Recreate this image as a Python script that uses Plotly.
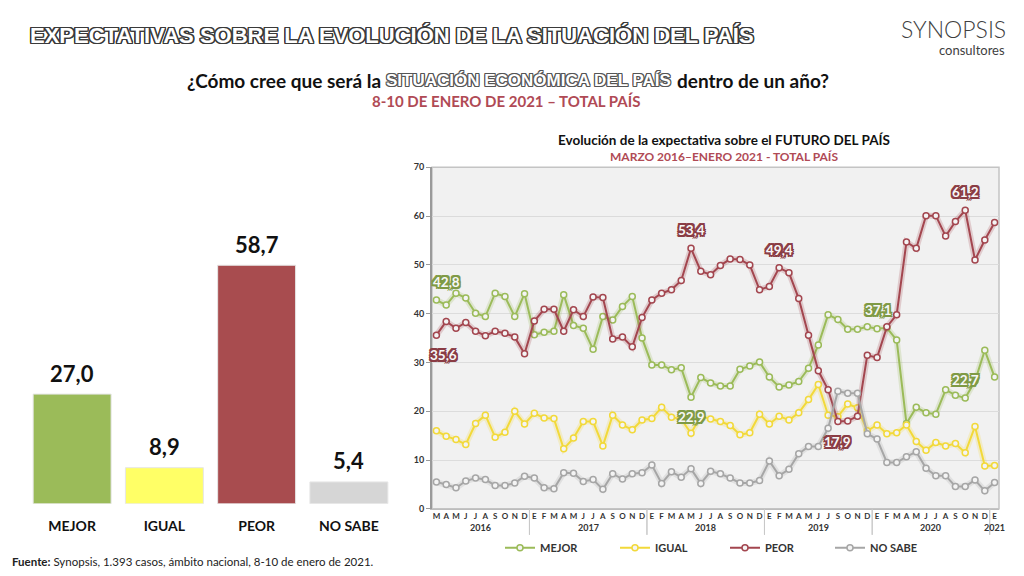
import plotly.graph_objects as go

# --- left bar chart: January 2021 poll ---
bar_categories = ["MEJOR", "IGUAL", "PEOR", "NO SABE"]
bar_values = [27.0, 8.9, 58.7, 5.4]
bar_colors = ["#9bbb59", "#ffff66", "#a84c4f", "#d6d6d6"]

# --- right line chart: monthly series, March 2016 - January 2021 ---
month_labels = (["M", "A", "M", "J", "J", "A", "S", "O", "N", "D"]
                + ["E", "F", "M", "A", "M", "J", "J", "A", "S", "O", "N", "D"]
                + ["E", "F", "M", "A", "M", "J", "J", "A", "S", "O", "N", "D"]
                + ["E", "F", "M", "A", "M", "J", "J", "S", "O", "N", "D"]
                + ["E", "F", "M", "A", "M", "J", "J", "A", "S", "O", "N", "D"]
                + ["E"])
year_labels = ["2016"] * 10 + ["2017"] * 12 + ["2018"] * 12 + ["2019"] * 11 + ["2020"] * 12 + ["2021"]

mejor = [42.8, 41.8, 44.2, 43.2, 40.1, 39.4, 44.2, 43.5, 39.4, 44.1,
         35.7, 36.2, 36.4, 43.9, 37.6, 37.0, 32.7, 39.4, 38.7, 41.5, 43.5, 35.0,
         29.5, 29.5, 28.5, 28.9, 22.9, 26.9, 25.8, 25.2, 25.2, 28.6, 29.3, 30.1,
         27.0, 25.0, 25.4, 26.1, 28.8, 33.6, 39.8, 38.8, 36.8, 36.8, 37.3,
         36.9, 37.1, 34.6, 17.5, 20.8, 19.7, 19.4, 24.4, 23.3, 22.7, 26.2, 32.5,
         27.0]
igual = [16.0, 14.9, 14.2, 13.2, 17.5, 19.2, 14.7, 15.7, 20.0, 17.4,
         19.6, 18.6, 18.5, 12.3, 14.5, 17.9, 17.9, 12.9, 19.2, 17.2, 16.2, 18.2,
         18.5, 20.8, 18.8, 18.4, 15.5, 19.0, 18.4, 17.9, 17.1, 15.2, 15.6, 19.4,
         17.4, 19.0, 18.2, 19.7, 22.4, 25.5, 19.2, 18.9, 21.5, 20.7, 16.0,
         17.2, 15.4, 15.6, 17.2, 13.8, 12.0, 13.6, 12.9, 13.4, 11.5, 16.9, 8.8,
         8.9]
peor = [35.6, 38.4, 37.0, 38.2, 36.4, 35.5, 36.4, 36.0, 35.2, 31.8,
        38.5, 40.9, 40.9, 36.4, 40.8, 39.4, 43.4, 43.3, 34.8, 35.2, 33.2, 39.2,
        42.8, 44.2, 44.9, 46.8, 53.4, 48.7, 48.0, 49.9, 51.2, 51.1, 50.0, 44.9,
        45.6, 49.4, 48.4, 43.1, 35.6, 28.3, 24.4, 17.9, 18.0, 19.0, 31.5,
        31.0, 37.3, 39.8, 54.7, 53.4, 60.1, 60.1, 55.9, 58.9, 61.2, 51.0, 55.1,
        58.7]
no_sabe = [5.5, 5.0, 4.3, 5.7, 6.3, 6.0, 4.8, 4.8, 5.3, 6.7,
           6.3, 4.3, 4.1, 7.4, 7.3, 5.6, 6.0, 4.0, 7.2, 6.1, 7.2, 7.4,
           9.0, 5.2, 7.6, 6.5, 8.2, 5.2, 7.7, 7.2, 6.3, 5.3, 5.3, 5.8,
           9.8, 6.8, 8.1, 11.3, 12.8, 12.8, 16.5, 24.1, 23.7, 23.7, 15.4,
           14.3, 9.5, 9.5, 10.7, 11.7, 8.3, 6.8, 6.8, 4.6, 4.6, 5.9, 3.7,
           5.4]

series_names = ["MEJOR", "IGUAL", "PEOR", "NO SABE"]
series_values = [mejor, igual, peor, no_sabe]
line_colors = ["#9bbb59", "#f2d93a", "#a3464f", "#a6a6a6"]
label_outline = ["#7f9a45", "#c9b020", "#8a3c44", "#808080"]
legend_left = [500, 615, 725, 830]  # px, where each legend entry starts

# highlighted points: (series index, point index, above?, xshift)
callouts = [(0, 0, True, 10), (2, 0, False, 7), (2, 26, True, 0), (0, 26, False, 0), (2, 35, True, 0),
            (0, 46, True, -8), (2, 41, False, 0), (2, 54, True, 0), (0, 54, True, 0)]

FONT = "Lato"
# the page body adds an 8px margin; the photo also comes out slightly squashed vertically
OFF, W, H = 8, 1016, 568
x_idx = list(range(len(month_labels)))


def px(x):
    return (x - OFF) / W


def py(y):
    y = (y - 5.6) / 0.982
    return 1 - (y - OFF) / H


def comma(v):
    return f"{v:.1f}".replace(".", ",")


def outline(color, w=1.0):
    rings = []
    for r in ([w] if w <= 1 else [1, w]):
        rings += [f"{dx * r}px {dy * r}px 0 {color}" for dx in (-1, 0, 1) for dy in (-1, 0, 1) if dx or dy]
    return ", ".join(rings)


def text_at(x, y, text, size, color="#111", anchor="center", family=FONT, **font):
    return dict(x=px(x), y=py(y), xref="paper", yref="paper", text=text, showarrow=False,
                xanchor=anchor, yanchor="middle",
                font=dict(family=family, size=size, color=color, **font))


fig = go.Figure()

fig.add_trace(go.Bar(
    x=bar_categories, y=bar_values,
    marker=dict(color=bar_colors, line=dict(color="#e6e6e6", width=1)),
    width=0.845, showlegend=False, hoverinfo="skip",
    xaxis="x", yaxis="y",
))

legend_layout = {}
for k, (name, vals, col) in enumerate(zip(series_names, series_values, line_colors)):
    leg = "legend" if k == 0 else f"legend{k + 1}"
    # soft glow under the line
    fig.add_trace(go.Scatter(
        x=x_idx, y=vals, mode="lines", line=dict(color=col, width=6),
        opacity=0.22, showlegend=False, hoverinfo="skip", xaxis="x2", yaxis="y2",
    ))
    fig.add_trace(go.Scatter(
        x=x_idx, y=vals, mode="lines+markers", name=name, legend=leg,
        line=dict(color=col, width=2),
        marker=dict(symbol="circle", size=6, color="#f4f4f4", line=dict(color=col, width=1.5)),
        xaxis="x2", yaxis="y2",
    ))
    legend_layout[leg] = dict(
        orientation="h", x=px(legend_left[k]), xanchor="left", y=py(548), yanchor="middle",
        font=dict(family=FONT, size=11, color="#333", weight="bold"),
        itemwidth=30, bgcolor="rgba(0,0,0,0)",
    )

annotations = []
for cat, v in zip(bar_categories, bar_values):
    annotations.append(dict(
        x=cat, y=v, xref="x", yref="y", text=comma(v), showarrow=False,
        yanchor="middle", yshift=21,
        font=dict(family=FONT, size=22, color="#111", weight="bold"),
    ))

for s, i, above, dx in callouts:
    v = series_values[s][i]
    annotations.append(dict(
        x=i, y=v, xref="x2", yref="y2", text=comma(v), showarrow=False,
        yanchor="middle", yshift=18 if above else -20, xshift=dx,
        font=dict(family=FONT, size=13.5, color="#f7f7f7", weight="bold",
                  shadow=outline(label_outline[s], 1.8)),
    ))

# year labels and separators under the month axis
years_seen = []
for y in year_labels:
    if y not in years_seen:
        years_seen.append(y)
shapes = [dict(type="rect", xref="x2 domain", yref="y2 domain", x0=0, x1=1, y0=0, y1=1,
               fillcolor="#f1f1f1", line=dict(color="#c4c4c4", width=1.5), layer="below")]
for y in years_seen:
    idx = [i for i, yy in enumerate(year_labels) if yy == y]
    annotations.append(dict(
        x=sum(idx) / len(idx), y=py(528), xref="x2", yref="paper", text=f"<b>{y}</b>",
        showarrow=False, yanchor="middle", font=dict(family=FONT, size=9, color="#333"),
    ))
    for edge in (idx[0] - 0.5, idx[-1] + 0.5):
        shapes.append(dict(type="line", xref="x2", yref="paper", x0=edge, x1=edge,
                           y0=py(509), y1=py(535), line=dict(color="#c8c8c8", width=1)))

# headings
annotations += [
    text_at(28, 35, "EXPECTATIVAS SOBRE LA EVOLUCIÓN DE LA SITUACIÓN DEL PAÍS", 22, "white", "left",
            family="Liberation Sans", weight="bold", shadow=outline("#3a3a3a", 1.3)),
    text_at(1008, 28, "SYNOPSIS", 23, "#3f3f3f", "right", weight=300),
    text_at(1007, 50, "consultores", 13, "#3f3f3f", "right"),
    text_at(383, 80, "¿Cómo cree que será la", 19, "#111", "right", weight="bold"),
    text_at(528, 80, "SITUACIÓN ECONÓMICA DEL PAÍS", 17, "white", "center",
            family="Liberation Sans", weight="bold", shadow=outline("#555", 1)),
    text_at(675, 80, "dentro de un año?", 19, "#111", "left", weight="bold"),
    text_at(506, 101, "8-10 DE ENERO DE 2021 – TOTAL PAÍS", 15, "#b04a55", weight="bold"),
    text_at(724, 140, "Evolución de la expectativa sobre el FUTURO DEL PAÍS", 13.5, "#111", weight="bold"),
    text_at(724, 156, "MARZO 2016–ENERO 2021 - TOTAL PAÍS", 12, "#b04a55", weight="bold"),
    text_at(10, 562, "<b>Fuente:</b> Synopsis, 1.393 casos, ámbito nacional, 8-10 de enero de 2021.",
            11.5, "#222", "left"),
]

fig.update_layout(
    width=W, height=H,
    margin=dict(l=0, r=0, t=0, b=0),
    paper_bgcolor="white", plot_bgcolor="rgba(0,0,0,0)",
    font=dict(family=FONT, color="#333"),
    xaxis=dict(domain=[px(26), px(395)], showgrid=False, showline=False, ticks="",
               tickfont=dict(family=FONT, size=14, color="#111", weight="bold"),
               ticklabelstandoff=12, fixedrange=True),
    yaxis=dict(domain=[py(504), py(239.4)], range=[0, 65], visible=False, fixedrange=True),
    xaxis2=dict(domain=[px(432), px(999)], anchor="y2", range=[-0.45, len(x_idx) - 0.55],
                tickmode="array", tickvals=x_idx, ticktext=month_labels,
                tickfont=dict(family=FONT, size=8, color="#333", weight="bold"),
                showgrid=False, showline=True, linecolor="#bdbdbd", linewidth=1,
                ticks="", zeroline=False),
    yaxis2=dict(domain=[py(509), py(167)], anchor="x2", range=[0, 70], dtick=10,
                tickfont=dict(family=FONT, size=9, color="#333", weight="bold"),
                showgrid=True, gridcolor="#dcdcdc", gridwidth=1,
                showline=True, linecolor="#9a9a9a", linewidth=2,
                ticks="outside", ticklen=4, tickcolor="#9a9a9a", zeroline=False),
    annotations=annotations,
    shapes=shapes,
    **legend_layout,
)

fig.write_html("out.html")
